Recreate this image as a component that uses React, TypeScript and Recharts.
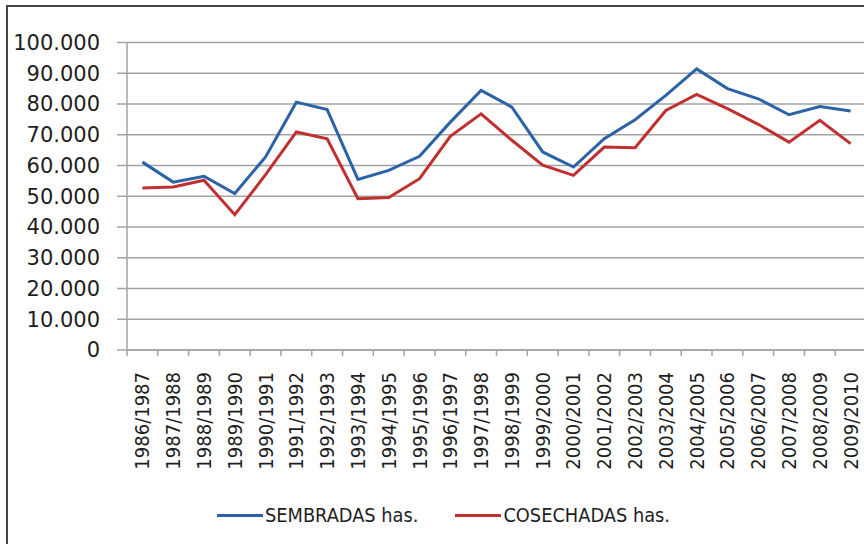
import React from 'react';
import { LineChart, Line, XAxis, YAxis, CartesianGrid, Legend } from 'recharts';

const categories = [
  '1986/1987', '1987/1988', '1988/1989', '1989/1990', '1990/1991', '1991/1992',
  '1992/1993', '1993/1994', '1994/1995', '1995/1996', '1996/1997', '1997/1998',
  '1998/1999', '1999/2000', '2000/2001', '2001/2002', '2002/2003', '2003/2004',
  '2004/2005', '2005/2006', '2006/2007', '2007/2008', '2008/2009', '2009/2010',
];

const sembradas = [
  61100, 54600, 56500, 50900, 62800, 80600, 78200, 55500, 58400, 63000, 74100, 84400,
  79000, 64400, 59500, 68700, 74900, 82800, 91400, 85000, 81700, 76500, 79200, 77700,
];

const cosechadas = [
  52700, 53000, 55200, 44000, 57000, 70900, 68700, 49200, 49600, 55700, 69500, 76800,
  68200, 60100, 56800, 66000, 65800, 77900, 83100, 78500, 73400, 67600, 74700, 67100,
];

const yTicks = [0, 10000, 20000, 30000, 40000, 50000, 60000, 70000, 80000, 90000, 100000];

const seriesNames = ['SEMBRADAS has.', 'COSECHADAS has.'];
const seriesColors = ['#2b62a8', '#c0302e'];

const data = categories.map((name, i) => ({
  i,
  name,
  sembradas: sembradas[i],
  cosechadas: cosechadas[i],
}));

// tick positions: category centers (labels) and category boundaries (tick marks)
const xTicks: number[] = [];
categories.forEach((_, i) => {
  xTicks.push(i - 0.5);
  xTicks.push(i);
});
xTicks.push(categories.length - 0.5);

const fmt = (v: number) => String(v).replace(/\B(?=(\d{3})+(?!\d))/g, '.');

const GRID = '#a3a3a3';

const XTick = (props: any) => {
  const { x, y, payload } = props;
  const v = payload.value;
  if (Number.isInteger(v)) {
    const ly = y + 22;
    return (
      <text
        x={x}
        y={ly}
        transform={`rotate(-90 ${x} ${ly})`}
        textAnchor="end"
        dominantBaseline="central"
        fontFamily="'DejaVu Sans Condensed', 'DejaVu Sans', sans-serif"
        fontSize={20}
        fill="#1e1e1e"
      >
        {categories[v]}
      </text>
    );
  }
  return <line x1={x} x2={x} y1={y} y2={y + 6} stroke={GRID} strokeWidth={1.5} />;
};

const LegendContent = () => (
  <div
    style={{
      display: 'flex',
      alignItems: 'center',
      paddingLeft: 217,
      fontFamily: "'DejaVu Sans Condensed', 'DejaVu Sans', sans-serif",
      fontSize: 19.8,
      color: '#1e1e1e',
    }}
  >
    {seriesNames.map((n, k) => (
      <div key={n} style={{ display: 'flex', alignItems: 'center', marginRight: 37 }}>
        <div style={{ width: 46, height: 3, background: seriesColors[k], marginRight: 2 }} />
        <span style={{ whiteSpace: 'nowrap' }}>{n}</span>
      </div>
    ))}
  </div>
);

export default function App() {
  return (
    <div
      style={{
        position: 'fixed',
        left: 0,
        top: 0,
        width: 864,
        height: 544,
        overflow: 'hidden',
        background: '#fff',
      }}
    >
      <div
        style={{
          position: 'absolute',
          left: 6,
          top: 5,
          width: 1000,
          height: 1000,
          border: '2px solid #444',
          boxSizing: 'border-box',
        }}
      />
      <div style={{ position: 'absolute', left: 0, top: 0 }}>
        <LineChart
          width={880}
          height={544}
          data={data}
          margin={{ top: 42.5, right: 14, bottom: 0, left: 0 }}
        >
          <CartesianGrid horizontal vertical={false} stroke={GRID} strokeWidth={1.5} />
          <XAxis
            dataKey="i"
            type="number"
            domain={[-0.5, categories.length - 0.5]}
            ticks={xTicks}
            interval={0}
            height={194}
            tickSize={0}
            tickMargin={0}
            tickLine={false}
            axisLine={{ stroke: GRID, strokeWidth: 1.5 }}
            tick={<XTick />}
            allowDataOverflow
          />
          <YAxis
            domain={[0, 100000]}
            ticks={yTicks}
            interval={0}
            width={127}
            tickSize={10}
            tickMargin={17}
            tickFormatter={fmt}
            axisLine={{ stroke: GRID, strokeWidth: 1.5 }}
            tickLine={{ stroke: GRID, strokeWidth: 1.5 }}
            tick={{
              fontFamily: "'DejaVu Sans', sans-serif",
              fontSize: 21,
              fill: '#1e1e1e',
            }}
          />
          <Legend
            layout="vertical"
            align="center"
            verticalAlign="middle"
            content={<LegendContent />}
            wrapperStyle={{ position: 'absolute', left: 0, top: 504, width: 880, height: 28 }}
          />
          <Line
            type="linear"
            dataKey="sembradas"
            name={seriesNames[0]}
            stroke={seriesColors[0]}
            strokeWidth={3}
            dot={false}
            isAnimationActive={false}
          />
          <Line
            type="linear"
            dataKey="cosechadas"
            name={seriesNames[1]}
            stroke={seriesColors[1]}
            strokeWidth={3}
            dot={false}
            isAnimationActive={false}
          />
        </LineChart>
      </div>
    </div>
  );
}
